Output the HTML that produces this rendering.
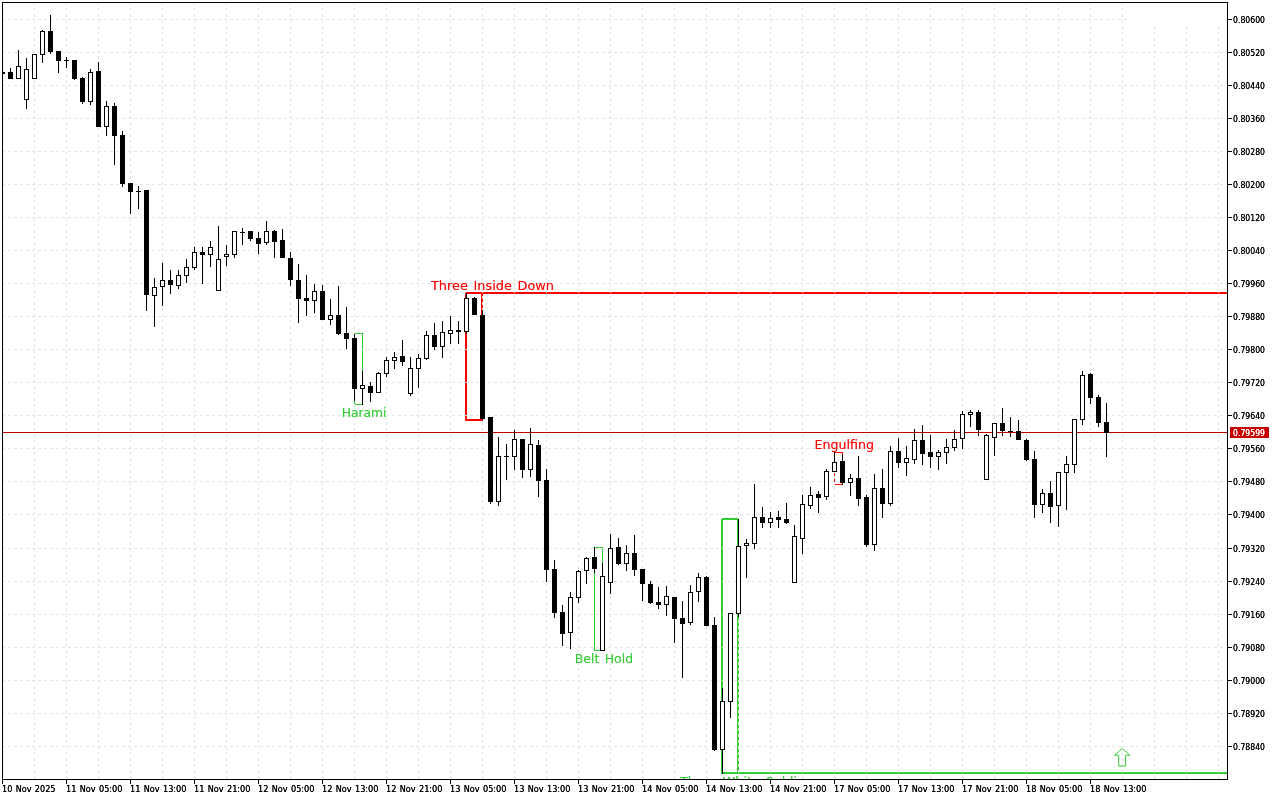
<!DOCTYPE html>
<html lang="en"><head><meta charset="utf-8"><title>Chart</title>
<style>html,body{margin:0;padding:0;background:#fff;overflow:hidden}svg{display:block}.ax{font-family:"DejaVu Sans Condensed","DejaVu Sans","Liberation Sans",sans-serif;font-size:9.2px;fill:#000;word-spacing:.7px}.lb{font-family:"DejaVu Sans","Liberation Sans",sans-serif;font-size:12.6px;word-spacing:1.5px}.lr{filter:drop-shadow(0 0 0 rgba(255,0,0,.45))}.lg{filter:drop-shadow(0 0 0 rgba(50,205,50,.45))}</style></head><body>
<svg width="1280" height="800" viewBox="0 0 1280 800">
<rect width="1280" height="800" fill="#fff"/>
<g shape-rendering="crispEdges">
<rect x="354" y="333" width="9" height="1" fill="#32cd32"/>
<rect x="354" y="404" width="9" height="1" fill="#32cd32"/>
<rect x="354" y="333" width="1" height="72" fill="#32cd32"/>
<rect x="362" y="333" width="1" height="72" fill="#32cd32"/>
<rect x="594" y="547" width="9" height="1" fill="#32cd32"/>
<rect x="594" y="650" width="9" height="1" fill="#32cd32"/>
<rect x="594" y="547" width="1" height="104" fill="#32cd32"/>
<rect x="602" y="547" width="1" height="104" fill="#32cd32"/>
<rect x="466" y="292" width="761" height="1" fill="#ff0000"/>
<rect x="465" y="293" width="762" height="1" fill="#ff0000"/>
<rect x="465" y="293" width="2" height="128" fill="#ff0000"/>
<rect x="465" y="419" width="18" height="2" fill="#ff0000"/>
<rect x="481" y="294" width="1" height="21" fill="#ff0000"/>
<rect x="482" y="294" width="1" height="1" fill="#ff0000"/>
<rect x="482" y="295" width="1" height="1" fill="#ff0000"/>
<rect x="482" y="299" width="1" height="1" fill="#ff0000"/>
<rect x="482" y="300" width="1" height="1" fill="#ff0000"/>
<rect x="482" y="301" width="1" height="1" fill="#ff0000"/>
<rect x="482" y="305" width="1" height="1" fill="#ff0000"/>
<rect x="482" y="306" width="1" height="1" fill="#ff0000"/>
<rect x="482" y="307" width="1" height="1" fill="#ff0000"/>
<rect x="482" y="311" width="1" height="1" fill="#ff0000"/>
<rect x="482" y="312" width="1" height="1" fill="#ff0000"/>
<rect x="482" y="313" width="1" height="1" fill="#ff0000"/>
<rect x="722" y="518" width="16" height="1" fill="#32cd32"/>
<rect x="721" y="519" width="17" height="1" fill="#32cd32"/>
<rect x="721" y="519" width="2" height="255" fill="#32cd32"/>
<rect x="721" y="772" width="506" height="2" fill="#32cd32"/>
<rect x="737" y="518" width="1" height="30" fill="#32cd32"/>
<rect x="737" y="548" width="1" height="224" fill="#32cd32"/>
<rect x="738" y="617" width="1" height="3" fill="#32cd32"/>
<rect x="738" y="623" width="1" height="3" fill="#32cd32"/>
<rect x="738" y="629" width="1" height="3" fill="#32cd32"/>
<rect x="738" y="635" width="1" height="3" fill="#32cd32"/>
<rect x="738" y="641" width="1" height="3" fill="#32cd32"/>
<rect x="738" y="647" width="1" height="3" fill="#32cd32"/>
<rect x="738" y="653" width="1" height="3" fill="#32cd32"/>
<rect x="738" y="659" width="1" height="3" fill="#32cd32"/>
<rect x="738" y="665" width="1" height="3" fill="#32cd32"/>
<rect x="738" y="671" width="1" height="3" fill="#32cd32"/>
<rect x="738" y="677" width="1" height="3" fill="#32cd32"/>
<rect x="738" y="683" width="1" height="3" fill="#32cd32"/>
<rect x="738" y="689" width="1" height="3" fill="#32cd32"/>
<rect x="738" y="695" width="1" height="3" fill="#32cd32"/>
<rect x="738" y="701" width="1" height="3" fill="#32cd32"/>
<rect x="738" y="707" width="1" height="3" fill="#32cd32"/>
<rect x="738" y="713" width="1" height="3" fill="#32cd32"/>
<rect x="738" y="719" width="1" height="3" fill="#32cd32"/>
<rect x="738" y="725" width="1" height="3" fill="#32cd32"/>
<rect x="738" y="731" width="1" height="3" fill="#32cd32"/>
<rect x="738" y="737" width="1" height="3" fill="#32cd32"/>
<rect x="738" y="743" width="1" height="3" fill="#32cd32"/>
<rect x="738" y="749" width="1" height="3" fill="#32cd32"/>
<rect x="738" y="755" width="1" height="3" fill="#32cd32"/>
<rect x="738" y="761" width="1" height="3" fill="#32cd32"/>
<rect x="738" y="767" width="1" height="3" fill="#32cd32"/>
<rect x="834" y="452" width="9" height="1" fill="#ff0000"/>
<rect x="834" y="484" width="9" height="1" fill="#ff0000"/>
<rect x="842" y="452" width="1" height="33" fill="#ff0000"/>
<rect x="834" y="452" width="1" height="33" fill="#ff0000"/>
</g>
<g shape-rendering="crispEdges" stroke="#e4e4e4" stroke-width="1" stroke-dasharray="3 3" fill="none">
<line x1="2" y1="19.5" x2="1223" y2="19.5"/>
<line x1="2" y1="52.5" x2="1223" y2="52.5"/>
<line x1="2" y1="85.5" x2="1223" y2="85.5"/>
<line x1="2" y1="118.5" x2="1223" y2="118.5"/>
<line x1="2" y1="151.5" x2="1223" y2="151.5"/>
<line x1="2" y1="184.5" x2="1223" y2="184.5"/>
<line x1="2" y1="217.5" x2="1223" y2="217.5"/>
<line x1="2" y1="250.5" x2="1223" y2="250.5"/>
<line x1="2" y1="283.5" x2="1223" y2="283.5"/>
<line x1="2" y1="316.5" x2="1223" y2="316.5"/>
<line x1="2" y1="349.5" x2="1223" y2="349.5"/>
<line x1="2" y1="382.5" x2="1223" y2="382.5"/>
<line x1="2" y1="415.5" x2="1223" y2="415.5"/>
<line x1="2" y1="448.5" x2="1223" y2="448.5"/>
<line x1="2" y1="481.5" x2="1223" y2="481.5"/>
<line x1="2" y1="514.5" x2="1223" y2="514.5"/>
<line x1="2" y1="548.5" x2="1223" y2="548.5"/>
<line x1="2" y1="581.5" x2="1223" y2="581.5"/>
<line x1="2" y1="614.5" x2="1223" y2="614.5"/>
<line x1="2" y1="647.5" x2="1223" y2="647.5"/>
<line x1="2" y1="680.5" x2="1223" y2="680.5"/>
<line x1="2" y1="713.5" x2="1223" y2="713.5"/>
<line x1="2" y1="746.5" x2="1223" y2="746.5"/>
<line x1="34.5" y1="2" x2="34.5" y2="779"/>
<line x1="66.5" y1="2" x2="66.5" y2="779"/>
<line x1="98.5" y1="2" x2="98.5" y2="779"/>
<line x1="130.5" y1="2" x2="130.5" y2="779"/>
<line x1="162.5" y1="2" x2="162.5" y2="779"/>
<line x1="194.5" y1="2" x2="194.5" y2="779"/>
<line x1="226.5" y1="2" x2="226.5" y2="779"/>
<line x1="258.5" y1="2" x2="258.5" y2="779"/>
<line x1="290.5" y1="2" x2="290.5" y2="779"/>
<line x1="322.5" y1="2" x2="322.5" y2="779"/>
<line x1="354.5" y1="2" x2="354.5" y2="779"/>
<line x1="386.5" y1="2" x2="386.5" y2="779"/>
<line x1="418.5" y1="2" x2="418.5" y2="779"/>
<line x1="450.5" y1="2" x2="450.5" y2="779"/>
<line x1="482.5" y1="2" x2="482.5" y2="779"/>
<line x1="514.5" y1="2" x2="514.5" y2="779"/>
<line x1="546.5" y1="2" x2="546.5" y2="779"/>
<line x1="578.5" y1="2" x2="578.5" y2="779"/>
<line x1="610.5" y1="2" x2="610.5" y2="779"/>
<line x1="642.5" y1="2" x2="642.5" y2="779"/>
<line x1="674.5" y1="2" x2="674.5" y2="779"/>
<line x1="706.5" y1="2" x2="706.5" y2="779"/>
<line x1="738.5" y1="2" x2="738.5" y2="779"/>
<line x1="770.5" y1="2" x2="770.5" y2="779"/>
<line x1="802.5" y1="2" x2="802.5" y2="779"/>
<line x1="834.5" y1="2" x2="834.5" y2="779"/>
<line x1="866.5" y1="2" x2="866.5" y2="779"/>
<line x1="898.5" y1="2" x2="898.5" y2="779"/>
<line x1="930.5" y1="2" x2="930.5" y2="779"/>
<line x1="962.5" y1="2" x2="962.5" y2="779"/>
<line x1="994.5" y1="2" x2="994.5" y2="779"/>
<line x1="1026.5" y1="2" x2="1026.5" y2="779"/>
<line x1="1058.5" y1="2" x2="1058.5" y2="779"/>
<line x1="1090.5" y1="2" x2="1090.5" y2="779"/>
<line x1="1122.5" y1="2" x2="1122.5" y2="779"/>
<line x1="1154.5" y1="2" x2="1154.5" y2="779"/>
<line x1="1186.5" y1="2" x2="1186.5" y2="779"/>
<line x1="1218.5" y1="2" x2="1218.5" y2="779"/>
</g>
<g shape-rendering="crispEdges">
<rect x="1127" y="3" width="100" height="23" fill="#fff"/>
<rect x="3" y="432" width="1224" height="1" fill="#c80000"/>
<rect x="3" y="72" width="2" height="2" fill="#000"/>
<rect x="10" y="68" width="1" height="11" fill="#000"/>
<rect x="8" y="72" width="5" height="7" fill="#000"/>
<rect x="18" y="50" width="1" height="29" fill="#000"/>
<rect x="16" y="66" width="5" height="13" fill="#000"/>
<rect x="17" y="67" width="3" height="11" fill="#fff"/>
<rect x="26" y="58" width="1" height="51" fill="#000"/>
<rect x="24" y="69" width="5" height="31" fill="#000"/>
<rect x="25" y="70" width="3" height="29" fill="#fff"/>
<rect x="34" y="54" width="1" height="25" fill="#000"/>
<rect x="32" y="54" width="5" height="25" fill="#000"/>
<rect x="33" y="55" width="3" height="23" fill="#fff"/>
<rect x="42" y="30" width="1" height="33" fill="#000"/>
<rect x="40" y="31" width="5" height="24" fill="#000"/>
<rect x="41" y="32" width="3" height="22" fill="#fff"/>
<rect x="50" y="15" width="1" height="39" fill="#000"/>
<rect x="48" y="31" width="5" height="21" fill="#000"/>
<rect x="58" y="51" width="1" height="22" fill="#000"/>
<rect x="56" y="51" width="5" height="10" fill="#000"/>
<rect x="66" y="57" width="1" height="11" fill="#000"/>
<rect x="64" y="60" width="5" height="1" fill="#000"/>
<rect x="74" y="60" width="1" height="20" fill="#000"/>
<rect x="72" y="60" width="5" height="19" fill="#000"/>
<rect x="82" y="77" width="1" height="27" fill="#000"/>
<rect x="80" y="78" width="5" height="24" fill="#000"/>
<rect x="90" y="69" width="1" height="36" fill="#000"/>
<rect x="88" y="72" width="5" height="30" fill="#000"/>
<rect x="89" y="73" width="3" height="28" fill="#fff"/>
<rect x="98" y="62" width="1" height="65" fill="#000"/>
<rect x="96" y="71" width="5" height="56" fill="#000"/>
<rect x="106" y="101" width="1" height="35" fill="#000"/>
<rect x="104" y="106" width="5" height="21" fill="#000"/>
<rect x="105" y="107" width="3" height="19" fill="#fff"/>
<rect x="114" y="103" width="1" height="62" fill="#000"/>
<rect x="112" y="106" width="5" height="30" fill="#000"/>
<rect x="122" y="131" width="1" height="56" fill="#000"/>
<rect x="120" y="135" width="5" height="49" fill="#000"/>
<rect x="130" y="183" width="1" height="31" fill="#000"/>
<rect x="128" y="183" width="5" height="9" fill="#000"/>
<rect x="138" y="186" width="1" height="23" fill="#000"/>
<rect x="136" y="191" width="5" height="1" fill="#000"/>
<rect x="146" y="190" width="1" height="121" fill="#000"/>
<rect x="144" y="190" width="5" height="105" fill="#000"/>
<rect x="154" y="278" width="1" height="49" fill="#000"/>
<rect x="152" y="287" width="5" height="9" fill="#000"/>
<rect x="153" y="288" width="3" height="7" fill="#fff"/>
<rect x="162" y="263" width="1" height="43" fill="#000"/>
<rect x="160" y="280" width="5" height="7" fill="#000"/>
<rect x="161" y="281" width="3" height="5" fill="#fff"/>
<rect x="170" y="270" width="1" height="24" fill="#000"/>
<rect x="168" y="280" width="5" height="5" fill="#000"/>
<rect x="178" y="270" width="1" height="19" fill="#000"/>
<rect x="176" y="275" width="5" height="11" fill="#000"/>
<rect x="177" y="276" width="3" height="9" fill="#fff"/>
<rect x="186" y="259" width="1" height="24" fill="#000"/>
<rect x="184" y="267" width="5" height="9" fill="#000"/>
<rect x="185" y="268" width="3" height="7" fill="#fff"/>
<rect x="194" y="247" width="1" height="23" fill="#000"/>
<rect x="192" y="252" width="5" height="16" fill="#000"/>
<rect x="193" y="253" width="3" height="14" fill="#fff"/>
<rect x="202" y="247" width="1" height="37" fill="#000"/>
<rect x="200" y="252" width="5" height="3" fill="#000"/>
<rect x="210" y="241" width="1" height="26" fill="#000"/>
<rect x="208" y="247" width="5" height="8" fill="#000"/>
<rect x="209" y="248" width="3" height="6" fill="#fff"/>
<rect x="218" y="226" width="1" height="65" fill="#000"/>
<rect x="216" y="259" width="5" height="32" fill="#000"/>
<rect x="217" y="260" width="3" height="30" fill="#fff"/>
<rect x="226" y="245" width="1" height="21" fill="#000"/>
<rect x="224" y="254" width="5" height="3" fill="#000"/>
<rect x="225" y="255" width="3" height="1" fill="#fff"/>
<rect x="234" y="231" width="1" height="27" fill="#000"/>
<rect x="232" y="231" width="5" height="24" fill="#000"/>
<rect x="233" y="232" width="3" height="22" fill="#fff"/>
<rect x="242" y="228" width="1" height="17" fill="#000"/>
<rect x="240" y="232" width="5" height="1" fill="#000"/>
<rect x="250" y="231" width="1" height="10" fill="#000"/>
<rect x="248" y="231" width="5" height="8" fill="#000"/>
<rect x="258" y="232" width="1" height="22" fill="#000"/>
<rect x="256" y="238" width="5" height="6" fill="#000"/>
<rect x="266" y="221" width="1" height="24" fill="#000"/>
<rect x="264" y="231" width="5" height="12" fill="#000"/>
<rect x="265" y="232" width="3" height="10" fill="#fff"/>
<rect x="274" y="230" width="1" height="28" fill="#000"/>
<rect x="272" y="231" width="5" height="11" fill="#000"/>
<rect x="282" y="229" width="1" height="29" fill="#000"/>
<rect x="280" y="240" width="5" height="18" fill="#000"/>
<rect x="290" y="252" width="1" height="34" fill="#000"/>
<rect x="288" y="258" width="5" height="22" fill="#000"/>
<rect x="298" y="264" width="1" height="59" fill="#000"/>
<rect x="296" y="280" width="5" height="19" fill="#000"/>
<rect x="306" y="275" width="1" height="41" fill="#000"/>
<rect x="304" y="298" width="5" height="3" fill="#000"/>
<rect x="314" y="284" width="1" height="29" fill="#000"/>
<rect x="312" y="291" width="5" height="10" fill="#000"/>
<rect x="313" y="292" width="3" height="8" fill="#fff"/>
<rect x="322" y="285" width="1" height="35" fill="#000"/>
<rect x="320" y="291" width="5" height="29" fill="#000"/>
<rect x="330" y="299" width="1" height="26" fill="#000"/>
<rect x="328" y="315" width="5" height="5" fill="#000"/>
<rect x="329" y="316" width="3" height="3" fill="#fff"/>
<rect x="338" y="286" width="1" height="49" fill="#000"/>
<rect x="336" y="315" width="5" height="19" fill="#000"/>
<rect x="346" y="307" width="1" height="42" fill="#000"/>
<rect x="344" y="333" width="5" height="6" fill="#000"/>
<rect x="354" y="334" width="1" height="67" fill="#000"/>
<rect x="352" y="338" width="5" height="51" fill="#000"/>
<rect x="362" y="371" width="1" height="34" fill="#000"/>
<rect x="360" y="385" width="5" height="4" fill="#000"/>
<rect x="361" y="386" width="3" height="2" fill="#fff"/>
<rect x="370" y="382" width="1" height="20" fill="#000"/>
<rect x="368" y="386" width="5" height="7" fill="#000"/>
<rect x="378" y="372" width="1" height="21" fill="#000"/>
<rect x="376" y="373" width="5" height="20" fill="#000"/>
<rect x="377" y="374" width="3" height="18" fill="#fff"/>
<rect x="386" y="357" width="1" height="20" fill="#000"/>
<rect x="384" y="360" width="5" height="14" fill="#000"/>
<rect x="385" y="361" width="3" height="12" fill="#fff"/>
<rect x="394" y="352" width="1" height="17" fill="#000"/>
<rect x="392" y="357" width="5" height="4" fill="#000"/>
<rect x="393" y="358" width="3" height="2" fill="#fff"/>
<rect x="402" y="340" width="1" height="26" fill="#000"/>
<rect x="400" y="356" width="5" height="6" fill="#000"/>
<rect x="410" y="357" width="1" height="39" fill="#000"/>
<rect x="408" y="368" width="5" height="26" fill="#000"/>
<rect x="409" y="369" width="3" height="24" fill="#fff"/>
<rect x="418" y="354" width="1" height="34" fill="#000"/>
<rect x="416" y="358" width="5" height="11" fill="#000"/>
<rect x="417" y="359" width="3" height="9" fill="#fff"/>
<rect x="426" y="331" width="1" height="29" fill="#000"/>
<rect x="424" y="335" width="5" height="24" fill="#000"/>
<rect x="425" y="336" width="3" height="22" fill="#fff"/>
<rect x="434" y="323" width="1" height="27" fill="#000"/>
<rect x="432" y="335" width="5" height="12" fill="#000"/>
<rect x="442" y="321" width="1" height="37" fill="#000"/>
<rect x="440" y="332" width="5" height="15" fill="#000"/>
<rect x="441" y="333" width="3" height="13" fill="#fff"/>
<rect x="450" y="316" width="1" height="28" fill="#000"/>
<rect x="448" y="330" width="5" height="4" fill="#000"/>
<rect x="449" y="331" width="3" height="2" fill="#fff"/>
<rect x="458" y="321" width="1" height="23" fill="#000"/>
<rect x="456" y="330" width="5" height="2" fill="#000"/>
<rect x="466" y="293" width="1" height="41" fill="#000"/>
<rect x="464" y="298" width="5" height="34" fill="#000"/>
<rect x="465" y="299" width="3" height="32" fill="#fff"/>
<rect x="474" y="297" width="1" height="18" fill="#000"/>
<rect x="472" y="298" width="5" height="17" fill="#000"/>
<rect x="482" y="310" width="1" height="110" fill="#000"/>
<rect x="480" y="315" width="5" height="104" fill="#000"/>
<rect x="490" y="417" width="1" height="87" fill="#000"/>
<rect x="488" y="417" width="5" height="85" fill="#000"/>
<rect x="498" y="437" width="1" height="69" fill="#000"/>
<rect x="496" y="456" width="5" height="46" fill="#000"/>
<rect x="497" y="457" width="3" height="44" fill="#fff"/>
<rect x="506" y="444" width="1" height="36" fill="#000"/>
<rect x="504" y="456" width="5" height="1" fill="#000"/>
<rect x="514" y="430" width="1" height="40" fill="#000"/>
<rect x="512" y="439" width="5" height="18" fill="#000"/>
<rect x="513" y="440" width="3" height="16" fill="#fff"/>
<rect x="522" y="439" width="1" height="39" fill="#000"/>
<rect x="520" y="439" width="5" height="31" fill="#000"/>
<rect x="530" y="428" width="1" height="49" fill="#000"/>
<rect x="528" y="444" width="5" height="26" fill="#000"/>
<rect x="529" y="445" width="3" height="24" fill="#fff"/>
<rect x="538" y="440" width="1" height="57" fill="#000"/>
<rect x="536" y="445" width="5" height="36" fill="#000"/>
<rect x="546" y="469" width="1" height="113" fill="#000"/>
<rect x="544" y="480" width="5" height="90" fill="#000"/>
<rect x="554" y="560" width="1" height="58" fill="#000"/>
<rect x="552" y="569" width="5" height="44" fill="#000"/>
<rect x="562" y="605" width="1" height="41" fill="#000"/>
<rect x="560" y="612" width="5" height="22" fill="#000"/>
<rect x="570" y="592" width="1" height="57" fill="#000"/>
<rect x="568" y="597" width="5" height="36" fill="#000"/>
<rect x="569" y="598" width="3" height="34" fill="#fff"/>
<rect x="578" y="570" width="1" height="33" fill="#000"/>
<rect x="576" y="571" width="5" height="27" fill="#000"/>
<rect x="577" y="572" width="3" height="25" fill="#fff"/>
<rect x="586" y="557" width="1" height="27" fill="#000"/>
<rect x="584" y="558" width="5" height="13" fill="#000"/>
<rect x="585" y="559" width="3" height="11" fill="#fff"/>
<rect x="594" y="547" width="1" height="26" fill="#000"/>
<rect x="592" y="557" width="5" height="12" fill="#000"/>
<rect x="602" y="563" width="1" height="88" fill="#000"/>
<rect x="600" y="576" width="5" height="75" fill="#000"/>
<rect x="601" y="577" width="3" height="73" fill="#fff"/>
<rect x="610" y="534" width="1" height="60" fill="#000"/>
<rect x="608" y="548" width="5" height="35" fill="#000"/>
<rect x="609" y="549" width="3" height="33" fill="#fff"/>
<rect x="618" y="538" width="1" height="27" fill="#000"/>
<rect x="616" y="547" width="5" height="17" fill="#000"/>
<rect x="626" y="545" width="1" height="26" fill="#000"/>
<rect x="624" y="553" width="5" height="11" fill="#000"/>
<rect x="625" y="554" width="3" height="9" fill="#fff"/>
<rect x="634" y="535" width="1" height="41" fill="#000"/>
<rect x="632" y="553" width="5" height="17" fill="#000"/>
<rect x="642" y="569" width="1" height="32" fill="#000"/>
<rect x="640" y="569" width="5" height="15" fill="#000"/>
<rect x="650" y="581" width="1" height="23" fill="#000"/>
<rect x="648" y="584" width="5" height="19" fill="#000"/>
<rect x="658" y="587" width="1" height="22" fill="#000"/>
<rect x="656" y="602" width="5" height="3" fill="#000"/>
<rect x="666" y="586" width="1" height="30" fill="#000"/>
<rect x="664" y="596" width="5" height="9" fill="#000"/>
<rect x="665" y="597" width="3" height="7" fill="#fff"/>
<rect x="674" y="597" width="1" height="46" fill="#000"/>
<rect x="672" y="597" width="5" height="22" fill="#000"/>
<rect x="682" y="601" width="1" height="77" fill="#000"/>
<rect x="680" y="618" width="5" height="6" fill="#000"/>
<rect x="690" y="585" width="1" height="40" fill="#000"/>
<rect x="688" y="592" width="5" height="31" fill="#000"/>
<rect x="689" y="593" width="3" height="29" fill="#fff"/>
<rect x="698" y="573" width="1" height="29" fill="#000"/>
<rect x="696" y="577" width="5" height="15" fill="#000"/>
<rect x="697" y="578" width="3" height="13" fill="#fff"/>
<rect x="706" y="576" width="1" height="50" fill="#000"/>
<rect x="704" y="577" width="5" height="49" fill="#000"/>
<rect x="714" y="617" width="1" height="134" fill="#000"/>
<rect x="712" y="625" width="5" height="125" fill="#000"/>
<rect x="722" y="688" width="1" height="86" fill="#000"/>
<rect x="720" y="701" width="5" height="49" fill="#000"/>
<rect x="721" y="702" width="3" height="47" fill="#fff"/>
<rect x="730" y="613" width="1" height="105" fill="#000"/>
<rect x="728" y="613" width="5" height="89" fill="#000"/>
<rect x="729" y="614" width="3" height="87" fill="#fff"/>
<rect x="738" y="519" width="1" height="98" fill="#000"/>
<rect x="736" y="546" width="5" height="68" fill="#000"/>
<rect x="737" y="547" width="3" height="66" fill="#fff"/>
<rect x="746" y="539" width="1" height="39" fill="#000"/>
<rect x="744" y="543" width="5" height="3" fill="#000"/>
<rect x="745" y="544" width="3" height="1" fill="#fff"/>
<rect x="754" y="484" width="1" height="65" fill="#000"/>
<rect x="752" y="517" width="5" height="27" fill="#000"/>
<rect x="753" y="518" width="3" height="25" fill="#fff"/>
<rect x="762" y="507" width="1" height="21" fill="#000"/>
<rect x="760" y="517" width="5" height="6" fill="#000"/>
<rect x="770" y="512" width="1" height="16" fill="#000"/>
<rect x="768" y="518" width="5" height="5" fill="#000"/>
<rect x="769" y="519" width="3" height="3" fill="#fff"/>
<rect x="778" y="511" width="1" height="17" fill="#000"/>
<rect x="776" y="517" width="5" height="3" fill="#000"/>
<rect x="786" y="503" width="1" height="21" fill="#000"/>
<rect x="784" y="519" width="5" height="4" fill="#000"/>
<rect x="794" y="525" width="1" height="58" fill="#000"/>
<rect x="792" y="536" width="5" height="47" fill="#000"/>
<rect x="793" y="537" width="3" height="45" fill="#fff"/>
<rect x="802" y="495" width="1" height="59" fill="#000"/>
<rect x="800" y="504" width="5" height="35" fill="#000"/>
<rect x="801" y="505" width="3" height="33" fill="#fff"/>
<rect x="810" y="487" width="1" height="22" fill="#000"/>
<rect x="808" y="495" width="5" height="11" fill="#000"/>
<rect x="809" y="496" width="3" height="9" fill="#fff"/>
<rect x="818" y="491" width="1" height="22" fill="#000"/>
<rect x="816" y="494" width="5" height="4" fill="#000"/>
<rect x="826" y="469" width="1" height="31" fill="#000"/>
<rect x="824" y="471" width="5" height="26" fill="#000"/>
<rect x="825" y="472" width="3" height="24" fill="#fff"/>
<rect x="834" y="452" width="1" height="20" fill="#000"/>
<rect x="832" y="462" width="5" height="10" fill="#000"/>
<rect x="833" y="463" width="3" height="8" fill="#fff"/>
<rect x="842" y="455" width="1" height="30" fill="#000"/>
<rect x="840" y="461" width="5" height="22" fill="#000"/>
<rect x="850" y="474" width="1" height="22" fill="#000"/>
<rect x="848" y="478" width="5" height="5" fill="#000"/>
<rect x="849" y="479" width="3" height="3" fill="#fff"/>
<rect x="858" y="456" width="1" height="50" fill="#000"/>
<rect x="856" y="478" width="5" height="21" fill="#000"/>
<rect x="866" y="495" width="1" height="52" fill="#000"/>
<rect x="864" y="497" width="5" height="48" fill="#000"/>
<rect x="874" y="474" width="1" height="77" fill="#000"/>
<rect x="872" y="488" width="5" height="57" fill="#000"/>
<rect x="873" y="489" width="3" height="55" fill="#fff"/>
<rect x="882" y="469" width="1" height="49" fill="#000"/>
<rect x="880" y="488" width="5" height="16" fill="#000"/>
<rect x="890" y="446" width="1" height="60" fill="#000"/>
<rect x="888" y="451" width="5" height="53" fill="#000"/>
<rect x="889" y="452" width="3" height="51" fill="#fff"/>
<rect x="898" y="438" width="1" height="30" fill="#000"/>
<rect x="896" y="451" width="5" height="12" fill="#000"/>
<rect x="906" y="446" width="1" height="30" fill="#000"/>
<rect x="904" y="458" width="5" height="5" fill="#000"/>
<rect x="905" y="459" width="3" height="3" fill="#fff"/>
<rect x="914" y="429" width="1" height="35" fill="#000"/>
<rect x="912" y="440" width="5" height="20" fill="#000"/>
<rect x="913" y="441" width="3" height="18" fill="#fff"/>
<rect x="922" y="425" width="1" height="40" fill="#000"/>
<rect x="920" y="440" width="5" height="14" fill="#000"/>
<rect x="930" y="435" width="1" height="33" fill="#000"/>
<rect x="928" y="452" width="5" height="5" fill="#000"/>
<rect x="938" y="450" width="1" height="20" fill="#000"/>
<rect x="936" y="452" width="5" height="5" fill="#000"/>
<rect x="937" y="453" width="3" height="3" fill="#fff"/>
<rect x="946" y="439" width="1" height="25" fill="#000"/>
<rect x="944" y="447" width="5" height="6" fill="#000"/>
<rect x="945" y="448" width="3" height="4" fill="#fff"/>
<rect x="954" y="430" width="1" height="21" fill="#000"/>
<rect x="952" y="439" width="5" height="9" fill="#000"/>
<rect x="953" y="440" width="3" height="7" fill="#fff"/>
<rect x="962" y="411" width="1" height="38" fill="#000"/>
<rect x="960" y="414" width="5" height="25" fill="#000"/>
<rect x="961" y="415" width="3" height="23" fill="#fff"/>
<rect x="970" y="410" width="1" height="17" fill="#000"/>
<rect x="968" y="412" width="5" height="3" fill="#000"/>
<rect x="969" y="413" width="3" height="1" fill="#fff"/>
<rect x="978" y="410" width="1" height="26" fill="#000"/>
<rect x="976" y="412" width="5" height="18" fill="#000"/>
<rect x="986" y="434" width="1" height="46" fill="#000"/>
<rect x="984" y="435" width="5" height="45" fill="#000"/>
<rect x="985" y="436" width="3" height="43" fill="#fff"/>
<rect x="994" y="423" width="1" height="33" fill="#000"/>
<rect x="992" y="423" width="5" height="15" fill="#000"/>
<rect x="993" y="424" width="3" height="13" fill="#fff"/>
<rect x="1002" y="408" width="1" height="28" fill="#000"/>
<rect x="1000" y="423" width="5" height="8" fill="#000"/>
<rect x="1010" y="417" width="1" height="20" fill="#000"/>
<rect x="1008" y="431" width="5" height="1" fill="#000"/>
<rect x="1018" y="420" width="1" height="20" fill="#000"/>
<rect x="1016" y="431" width="5" height="9" fill="#000"/>
<rect x="1026" y="439" width="1" height="22" fill="#000"/>
<rect x="1024" y="440" width="5" height="20" fill="#000"/>
<rect x="1034" y="451" width="1" height="67" fill="#000"/>
<rect x="1032" y="459" width="5" height="46" fill="#000"/>
<rect x="1042" y="489" width="1" height="24" fill="#000"/>
<rect x="1040" y="493" width="5" height="12" fill="#000"/>
<rect x="1041" y="494" width="3" height="10" fill="#fff"/>
<rect x="1050" y="481" width="1" height="42" fill="#000"/>
<rect x="1048" y="493" width="5" height="14" fill="#000"/>
<rect x="1058" y="472" width="1" height="55" fill="#000"/>
<rect x="1056" y="472" width="5" height="34" fill="#000"/>
<rect x="1057" y="473" width="3" height="32" fill="#fff"/>
<rect x="1066" y="456" width="1" height="54" fill="#000"/>
<rect x="1064" y="464" width="5" height="9" fill="#000"/>
<rect x="1065" y="465" width="3" height="7" fill="#fff"/>
<rect x="1074" y="419" width="1" height="54" fill="#000"/>
<rect x="1072" y="419" width="5" height="46" fill="#000"/>
<rect x="1073" y="420" width="3" height="44" fill="#fff"/>
<rect x="1082" y="371" width="1" height="54" fill="#000"/>
<rect x="1080" y="375" width="5" height="45" fill="#000"/>
<rect x="1081" y="376" width="3" height="43" fill="#fff"/>
<rect x="1090" y="373" width="1" height="31" fill="#000"/>
<rect x="1088" y="374" width="5" height="24" fill="#000"/>
<rect x="1098" y="395" width="1" height="32" fill="#000"/>
<rect x="1096" y="397" width="5" height="26" fill="#000"/>
<rect x="1106" y="403" width="1" height="54" fill="#000"/>
<rect x="1104" y="422" width="5" height="11" fill="#000"/>
<rect x="2" y="2" width="1226" height="1" fill="#000"/>
<rect x="2" y="2" width="1" height="778" fill="#000"/>
<rect x="1227" y="2" width="1" height="778" fill="#000"/>
<rect x="2" y="779" width="1226" height="1" fill="#000"/>
<rect x="1228" y="19" width="4" height="1" fill="#000"/>
<rect x="1228" y="52" width="4" height="1" fill="#000"/>
<rect x="1228" y="85" width="4" height="1" fill="#000"/>
<rect x="1228" y="118" width="4" height="1" fill="#000"/>
<rect x="1228" y="151" width="4" height="1" fill="#000"/>
<rect x="1228" y="184" width="4" height="1" fill="#000"/>
<rect x="1228" y="217" width="4" height="1" fill="#000"/>
<rect x="1228" y="250" width="4" height="1" fill="#000"/>
<rect x="1228" y="283" width="4" height="1" fill="#000"/>
<rect x="1228" y="316" width="4" height="1" fill="#000"/>
<rect x="1228" y="349" width="4" height="1" fill="#000"/>
<rect x="1228" y="382" width="4" height="1" fill="#000"/>
<rect x="1228" y="415" width="4" height="1" fill="#000"/>
<rect x="1228" y="448" width="4" height="1" fill="#000"/>
<rect x="1228" y="481" width="4" height="1" fill="#000"/>
<rect x="1228" y="514" width="4" height="1" fill="#000"/>
<rect x="1228" y="548" width="4" height="1" fill="#000"/>
<rect x="1228" y="581" width="4" height="1" fill="#000"/>
<rect x="1228" y="614" width="4" height="1" fill="#000"/>
<rect x="1228" y="647" width="4" height="1" fill="#000"/>
<rect x="1228" y="680" width="4" height="1" fill="#000"/>
<rect x="1228" y="713" width="4" height="1" fill="#000"/>
<rect x="1228" y="746" width="4" height="1" fill="#000"/>
<rect x="2" y="780" width="1" height="4" fill="#000"/>
<rect x="66" y="780" width="1" height="4" fill="#000"/>
<rect x="130" y="780" width="1" height="4" fill="#000"/>
<rect x="194" y="780" width="1" height="4" fill="#000"/>
<rect x="258" y="780" width="1" height="4" fill="#000"/>
<rect x="322" y="780" width="1" height="4" fill="#000"/>
<rect x="386" y="780" width="1" height="4" fill="#000"/>
<rect x="450" y="780" width="1" height="4" fill="#000"/>
<rect x="514" y="780" width="1" height="4" fill="#000"/>
<rect x="578" y="780" width="1" height="4" fill="#000"/>
<rect x="642" y="780" width="1" height="4" fill="#000"/>
<rect x="706" y="780" width="1" height="4" fill="#000"/>
<rect x="770" y="780" width="1" height="4" fill="#000"/>
<rect x="834" y="780" width="1" height="4" fill="#000"/>
<rect x="898" y="780" width="1" height="4" fill="#000"/>
<rect x="962" y="780" width="1" height="4" fill="#000"/>
<rect x="1026" y="780" width="1" height="4" fill="#000"/>
<rect x="1090" y="780" width="1" height="4" fill="#000"/>
<rect x="1230" y="427" width="39" height="11" fill="#c80000"/>
</g>
<path d="M1122.3 748.5 L1129.9 755.2 L1125.6 755.2 L1125.6 766.1 L1118.7 766.1 L1118.7 755.2 L1114.5 755.2 Z" fill="none" stroke="#32cd32" stroke-width="0.95" stroke-linejoin="miter"/>
<g style="filter:drop-shadow(0 0 0 #000)">
<text class="ax" x="1233" y="23" textLength="32" lengthAdjust="spacingAndGlyphs">0.80600</text>
<text class="ax" x="1233" y="56" textLength="32" lengthAdjust="spacingAndGlyphs">0.80520</text>
<text class="ax" x="1233" y="89" textLength="32" lengthAdjust="spacingAndGlyphs">0.80440</text>
<text class="ax" x="1233" y="122" textLength="32" lengthAdjust="spacingAndGlyphs">0.80360</text>
<text class="ax" x="1233" y="155" textLength="32" lengthAdjust="spacingAndGlyphs">0.80280</text>
<text class="ax" x="1233" y="188" textLength="32" lengthAdjust="spacingAndGlyphs">0.80200</text>
<text class="ax" x="1233" y="221" textLength="32" lengthAdjust="spacingAndGlyphs">0.80120</text>
<text class="ax" x="1233" y="254" textLength="32" lengthAdjust="spacingAndGlyphs">0.80040</text>
<text class="ax" x="1233" y="287" textLength="32" lengthAdjust="spacingAndGlyphs">0.79960</text>
<text class="ax" x="1233" y="320" textLength="32" lengthAdjust="spacingAndGlyphs">0.79880</text>
<text class="ax" x="1233" y="353" textLength="32" lengthAdjust="spacingAndGlyphs">0.79800</text>
<text class="ax" x="1233" y="386" textLength="32" lengthAdjust="spacingAndGlyphs">0.79720</text>
<text class="ax" x="1233" y="419" textLength="32" lengthAdjust="spacingAndGlyphs">0.79640</text>
<text class="ax" x="1233" y="452" textLength="32" lengthAdjust="spacingAndGlyphs">0.79560</text>
<text class="ax" x="1233" y="485" textLength="32" lengthAdjust="spacingAndGlyphs">0.79480</text>
<text class="ax" x="1233" y="518" textLength="32" lengthAdjust="spacingAndGlyphs">0.79400</text>
<text class="ax" x="1233" y="552" textLength="32" lengthAdjust="spacingAndGlyphs">0.79320</text>
<text class="ax" x="1233" y="585" textLength="32" lengthAdjust="spacingAndGlyphs">0.79240</text>
<text class="ax" x="1233" y="618" textLength="32" lengthAdjust="spacingAndGlyphs">0.79160</text>
<text class="ax" x="1233" y="651" textLength="32" lengthAdjust="spacingAndGlyphs">0.79080</text>
<text class="ax" x="1233" y="684" textLength="32" lengthAdjust="spacingAndGlyphs">0.79000</text>
<text class="ax" x="1233" y="717" textLength="32" lengthAdjust="spacingAndGlyphs">0.78920</text>
<text class="ax" x="1233" y="750" textLength="32" lengthAdjust="spacingAndGlyphs">0.78840</text>
</g>
<text class="ax" x="1233" y="436" textLength="32" lengthAdjust="spacingAndGlyphs" style="fill:#fff;filter:drop-shadow(0 0 0 #fff)">0.79599</text>
<g style="filter:drop-shadow(0 0 0 #000)">
<text class="ax" x="2" y="792" textLength="53.5" lengthAdjust="spacingAndGlyphs">10 Nov 2025</text>
<text class="ax" x="66" y="792" textLength="56.5" lengthAdjust="spacingAndGlyphs">11 Nov 05:00</text>
<text class="ax" x="130" y="792" textLength="56.5" lengthAdjust="spacingAndGlyphs">11 Nov 13:00</text>
<text class="ax" x="194" y="792" textLength="56.5" lengthAdjust="spacingAndGlyphs">11 Nov 21:00</text>
<text class="ax" x="258" y="792" textLength="56.5" lengthAdjust="spacingAndGlyphs">12 Nov 05:00</text>
<text class="ax" x="322" y="792" textLength="56.5" lengthAdjust="spacingAndGlyphs">12 Nov 13:00</text>
<text class="ax" x="386" y="792" textLength="56.5" lengthAdjust="spacingAndGlyphs">12 Nov 21:00</text>
<text class="ax" x="450" y="792" textLength="56.5" lengthAdjust="spacingAndGlyphs">13 Nov 05:00</text>
<text class="ax" x="514" y="792" textLength="56.5" lengthAdjust="spacingAndGlyphs">13 Nov 13:00</text>
<text class="ax" x="578" y="792" textLength="56.5" lengthAdjust="spacingAndGlyphs">13 Nov 21:00</text>
<text class="ax" x="642" y="792" textLength="56.5" lengthAdjust="spacingAndGlyphs">14 Nov 05:00</text>
<text class="ax" x="706" y="792" textLength="56.5" lengthAdjust="spacingAndGlyphs">14 Nov 13:00</text>
<text class="ax" x="770" y="792" textLength="56.5" lengthAdjust="spacingAndGlyphs">14 Nov 21:00</text>
<text class="ax" x="834" y="792" textLength="56.5" lengthAdjust="spacingAndGlyphs">17 Nov 05:00</text>
<text class="ax" x="898" y="792" textLength="56.5" lengthAdjust="spacingAndGlyphs">17 Nov 13:00</text>
<text class="ax" x="962" y="792" textLength="56.5" lengthAdjust="spacingAndGlyphs">17 Nov 21:00</text>
<text class="ax" x="1026" y="792" textLength="56.5" lengthAdjust="spacingAndGlyphs">18 Nov 05:00</text>
<text class="ax" x="1090" y="792" textLength="56.5" lengthAdjust="spacingAndGlyphs">18 Nov 13:00</text>
</g>
<text class="lb lr" x="431" y="290" fill="#ff0000" textLength="123" lengthAdjust="spacingAndGlyphs">Three Inside Down</text>
<text class="lb lg" x="341.8" y="416.7" fill="#32cd32" textLength="44.5" lengthAdjust="spacingAndGlyphs">Harami</text>
<text class="lb lg" x="574.8" y="662.6" fill="#32cd32" textLength="58.3" lengthAdjust="spacingAndGlyphs">Belt Hold</text>
<text class="lb lr" x="814.6" y="449" fill="#ff0000" textLength="59.4" lengthAdjust="spacingAndGlyphs">Engulfing</text>
<clipPath id="cp"><rect x="3" y="3" width="1224" height="776"/></clipPath>
<g clip-path="url(#cp)"><text class="lb lg" x="680" y="786" fill="#32cd32" textLength="137" lengthAdjust="spacingAndGlyphs">Three White Soldiers</text></g>
</svg></body></html>
